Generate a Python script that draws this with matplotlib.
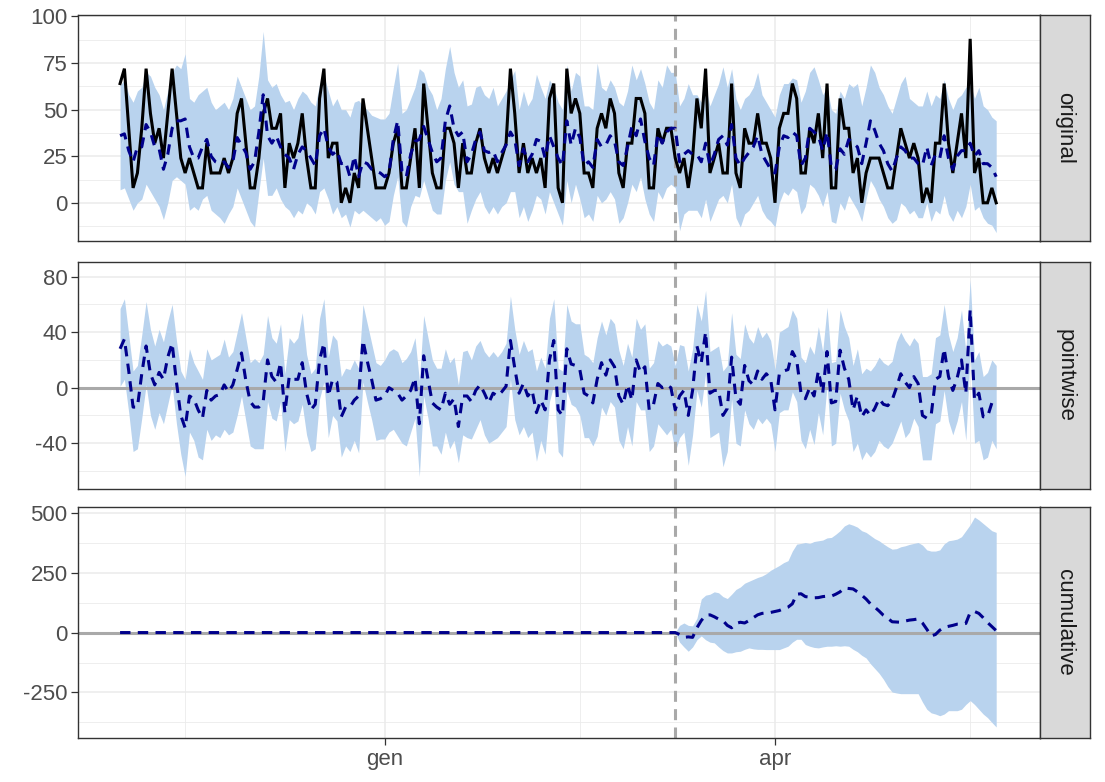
import numpy as np
import matplotlib
matplotlib.use("Agg")
import matplotlib.pyplot as plt
import matplotlib.dates as mdates
import datetime as dt

# ---------------- data ----------------
start_date = dt.date(2017, 11, 1)
post_start = dt.date(2018, 3, 9)        # intervention (vertical dashed line)
month_breaks = [dt.date(2018, 1, 1), dt.date(2018, 4, 1)]
month_labels = ["gen", "apr"]
minor_breaks = [dt.date(2017, 11, 16), dt.date(2018, 2, 15), dt.date(2018, 5, 16)]
panel_names = ["original", "pointwise", "cumulative"]

y_obs = [64, 72, 40, 8, 16, 40, 72, 48, 32, 40,
         24, 48, 72, 48, 24, 16, 24, 16, 8, 8,
         32, 16, 16, 16, 24, 16, 24, 48, 56, 32,
         8, 8, 24, 48, 56, 40, 40, 48, 8, 32,
         24, 32, 48, 24, 8, 8, 56, 72, 24, 32,
         32, 0, 8, 0, 16, 8, 56, 40, 24, 8,
         8, 8, 16, 32, 40, 8, 8, 24, 40, 8,
         64, 40, 16, 8, 8, 40, 40, 32, 8, 32,
         16, 16, 32, 40, 24, 16, 24, 16, 24, 32,
         72, 48, 16, 32, 16, 24, 16, 24, 8, 56,
         64, 8, 0, 72, 48, 56, 48, 16, 16, 8,
         40, 48, 40, 56, 48, 16, 8, 32, 32, 56,
         56, 48, 8, 8, 40, 32, 40, 40, 24, 16,
         24, 8, 24, 56, 40, 72, 16, 24, 32, 16,
         16, 64, 16, 8, 40, 32, 32, 48, 32, 32,
         24, 0, 40, 48, 48, 64, 56, 16, 16, 40,
         32, 48, 24, 64, 8, 8, 56, 40, 40, 16,
         24, 0, 16, 24, 24, 24, 16, 8, 8, 24,
         40, 32, 24, 32, 24, 0, 8, 0, 32, 32,
         64, 32, 16, 32, 48, 24, 88, 16, 24, 0,
         0, 8, 0]

pred_mean = [36, 37, 28, 22, 30, 30, 42, 38, 30, 29,
             18, 26, 40, 44, 44, 45, 30, 24, 24, 30,
             34, 25, 22, 21, 22, 19, 22, 35, 31, 27,
             18, 22, 38, 58, 36, 32, 36, 30, 26, 24,
             18, 26, 30, 28, 24, 20, 36, 40, 30, 26,
             28, 21, 22, 14, 25, 14, 22, 21, 18, 17,
             16, 14, 16, 34, 44, 17, 14, 26, 33, 34,
             41, 34, 27, 22, 24, 44, 52, 40, 36, 38,
             22, 26, 34, 38, 28, 27, 28, 22, 27, 31,
             38, 34, 20, 29, 22, 26, 34, 33, 24, 36,
             30, 24, 20, 44, 31, 40, 35, 20, 22, 19,
             34, 30, 31, 36, 33, 22, 20, 30, 41, 36,
             45, 33, 24, 20, 37, 32, 38, 40, 40, 22,
             26, 28, 26, 26, 22, 32, 20, 26, 34, 36,
             31, 42, 24, 20, 24, 27, 30, 36, 26, 22,
             18, 16, 30, 36, 35, 38, 36, 20, 24, 40,
             38, 36, 28, 38, 19, 18, 29, 26, 34, 32,
             30, 21, 32, 44, 39, 32, 28, 21, 17, 24,
             30, 28, 24, 24, 21, 20, 30, 20, 26, 24,
             36, 24, 18, 25, 28, 28, 32, 25, 28, 21,
             21, 19, 14]

pred_lower = [7, 8, 2, -4, 0, 2, 10, 6, 2, -2,
              -9, 0, 12, 14, 12, 10, -4, -2, -4, 2,
              4, -4, -6, -8, -11, -6, -2, 8, 2, -4,
              -10, -13, 6, 24, 4, 4, 8, 2, -2, -4,
              -8, -4, -6, 0, -2, -6, 6, 8, 2, -6,
              -2, -8, -6, -13, -4, -6, -4, -6, -8, -10,
              -8, -12, -10, 4, 14, -10, -13, -2, 4, 3,
              12, 4, -4, -6, -6, 12, 22, 10, 6, 6,
              -11, -4, 2, 6, -2, -6, -2, -6, -2, 0,
              6, 6, -8, -2, -10, -4, 4, 2, -6, 6,
              0, -6, -12, 12, 0, 10, 2, -8, -6, -10,
              4, 0, 2, 6, 2, -11, -8, 0, 10, 6,
              14, 2, -6, -10, 6, 2, 8, 10, 8, -15,
              -6, -4, -4, -4, -8, 2, -10, -4, 2, 4,
              0, 10, -8, -13, -6, -4, 0, 4, -4, -8,
              -10, -13, 0, 6, 4, 8, 6, -6, -2, 10,
              8, 4, -2, 6, -10, -11, 0, -4, 4, 0,
              -4, -10, 2, 12, 8, 2, -2, -8, -11, -9,
              0, -2, -6, -4, -8, -8, 0, -10, -4, -6,
              4, -6, -10, -4, -8, -2, 10, -4, -2, -8,
              -11, -12, -16]

pred_upper = [63, 66, 58, 54, 60, 62, 70, 68, 62, 58,
              50, 60, 70, 74, 72, 80, 56, 54, 58, 60,
              62, 54, 50, 52, 54, 50, 56, 68, 62, 56,
              50, 52, 68, 92, 66, 62, 64, 58, 54, 55,
              50, 56, 60, 58, 54, 52, 64, 68, 60, 52,
              56, 50, 50, 46, 54, 55, 52, 50, 47, 46,
              45, 45, 48, 62, 75, 48, 50, 56, 62, 72,
              70, 62, 58, 50, 56, 72, 84, 70, 62, 66,
              52, 53, 62, 63, 58, 56, 62, 52, 56, 60,
              66, 71, 50, 60, 52, 56, 69, 62, 56, 66,
              62, 54, 50, 74, 60, 70, 68, 52, 52, 50,
              75, 62, 60, 66, 62, 54, 52, 60, 74, 66,
              72, 64, 54, 50, 66, 62, 74, 70, 70, 52,
              56, 64, 58, 58, 54, 62, 52, 58, 64, 73,
              62, 72, 56, 50, 56, 58, 62, 70, 58, 54,
              50, 46, 58, 64, 64, 67, 66, 54, 60, 70,
              73, 66, 58, 62, 50, 48, 60, 56, 64, 62,
              64, 52, 62, 74, 70, 62, 58, 52, 48, 56,
              64, 68, 56, 54, 52, 52, 60, 52, 58, 56,
              66, 56, 50, 56, 58, 62, 64, 56, 62, 52,
              50, 46, 44]

# cumulative effect, post period only (from the intervention day onwards)
cum_mean = [0, -8, -20, -18, -20, 20, 50, 72, 74, 66,
            56, 50, 30, 20, 38, 43, 40, 50, 62, 74,
            80, 82, 84, 88, 92, 100, 106, 120, 160, 162,
            150, 148, 145, 146, 150, 152, 152, 160, 170, 186,
            184, 182, 170, 156, 140, 120, 106, 90, 72, 60,
            45, 44, 43, 48, 52, 54, 57, 40, 14, -14,
            -8, 10, 22, 26, 30, 35, 35, 38, 84, 88,
            80, 62, 42, 25, 8]
cum_lower = [0, -40, -60, -78, -60, -30, -14, -30, -40, -43,
             -60, -75, -85, -85, -80, -78, -70, -64, -68, -70,
             -70, -71, -71, -71, -71, -64, -57, -40, -28, -28,
             -50, -57, -62, -64, -60, -57, -57, -55, -57, -55,
             -57, -70, -80, -95, -106, -130, -150, -170, -195, -225,
             -248, -252, -255, -255, -255, -255, -255, -290, -320, -335,
             -340, -347, -340, -326, -326, -326, -320, -300, -284, -300,
             -320, -340, -355, -375, -394]
cum_upper = [0, 30, 40, 30, 28, 60, 140, 156, 160, 170,
             166, 150, 142, 160, 180, 190, 206, 214, 222, 230,
             236, 246, 260, 270, 280, 292, 300, 340, 369, 372,
             376, 372, 380, 383, 386, 395, 397, 410, 425, 445,
             454, 448, 440, 425, 418, 405, 392, 383, 370, 358,
             348, 350, 358, 362, 368, 372, 376, 365, 345, 340,
             340, 345, 370, 383, 386, 390, 400, 425, 450, 482,
             470, 455, 440, 425, 418]

panel_ticks = [[0, 25, 50, 75, 100], [-40, 0, 40, 80], [-250, 0, 250, 500]]
panel_minor = [[-12.5, 12.5, 37.5, 62.5, 87.5], [-60, -20, 20, 60],
               [-375, -125, 125, 375]]
panel_ylim = [(-20.5, 100.8), (-73.0, 90.5), (-440, 524)]

# ---------------- derived series ----------------
y_obs = np.array(y_obs, float)
pred_mean = np.array(pred_mean, float)
pred_lower = np.array(pred_lower, float)
pred_upper = np.array(pred_upper, float)
n = len(y_obs)
dates = [start_date + dt.timedelta(days=i) for i in range(n)]
x = mdates.date2num(dates)
x_int = mdates.date2num(post_start)
i0 = dates.index(post_start)

point_mean = y_obs - pred_mean
point_lower = y_obs - pred_upper
point_upper = y_obs - pred_lower
cum_full = np.concatenate([np.zeros(i0), np.array(cum_mean, float)])
x_post = x[i0:]

# ---------------- style ----------------
plt.rcParams['font.family'] = ['Liberation Sans', 'DejaVu Sans']
RIB = '#B9D3EE'
BLUE = '#00008B'
GRID = '#EBEBEB'
BORDER = '#333333'
DGREY = '#A9A9A9'
LW = 2.2
DASH = (0, (3.4, 2.4))
FS = 16

W, H = 1105, 782
fig = plt.figure(figsize=(W / 100, H / 100), dpi=100)
fig.patch.set_facecolor('white')

left, right = 78, 1040
strip_w = 50
vert = [(15, 241), (262, 489), (507, 738)]
xlim = (x[0] - 9.7, x[0] + 212.1)

axes = []
for k, (top, bot) in enumerate(vert):
    ax = fig.add_axes([left / W, 1 - bot / H, (right - left) / W, (bot - top) / H])
    axes.append(ax)
    ax.set_facecolor('white')
    ax.set_xlim(*xlim)
    ax.set_ylim(*panel_ylim[k])
    # grid
    for v in panel_minor[k]:
        ax.axhline(v, color=GRID, lw=0.6, zorder=0)
    for v in panel_ticks[k]:
        ax.axhline(v, color=GRID, lw=1.1, zorder=0)
    for d in minor_breaks:
        ax.axvline(mdates.date2num(d), color=GRID, lw=0.6, zorder=0)
    for d in month_breaks:
        ax.axvline(mdates.date2num(d), color=GRID, lw=1.1, zorder=0)
    ax.set_yticks(panel_ticks[k])
    ax.set_yticklabels([str(t) for t in panel_ticks[k]])
    ax.tick_params(axis='y', length=5.0, width=0.9, color=BORDER, pad=2.5,
                   labelsize=FS, labelcolor='#4D4D4D')
    for s in ax.spines.values():
        s.set_color(BORDER)
        s.set_linewidth(1.0)
        s.set_zorder(10)
    if k < 2:
        ax.set_xticks([])
    else:
        ax.set_xticks(mdates.date2num(month_breaks))
        ax.set_xticklabels(month_labels)
        ax.tick_params(axis='x', length=5.0, width=0.9, color=BORDER, pad=3,
                       labelsize=FS, labelcolor='#4D4D4D')

    # strip
    sax = fig.add_axes([right / W, 1 - bot / H, strip_w / W, (bot - top) / H])
    sax.set_facecolor('#D9D9D9')
    sax.set_xticks([])
    sax.set_yticks([])
    for s in sax.spines.values():
        s.set_color(BORDER)
        s.set_linewidth(1.0)
    sax.text(0.5, 0.5, panel_names[k], rotation=270, ha='center', va='center',
             fontsize=FS, color='#1A1A1A', transform=sax.transAxes)

# panel 1: original
ax = axes[0]
ax.fill_between(x, pred_lower, pred_upper, color=RIB, lw=0, zorder=1)
ax.axvline(x_int, color=DGREY, lw=LW, ls=(0, (3.6, 2.4)), zorder=2)
ax.plot(x, y_obs, color='black', lw=LW, zorder=3, solid_joinstyle='miter')
ax.plot(x, pred_mean, color=BLUE, lw=LW, ls=DASH, zorder=4)

# panel 2: pointwise
ax = axes[1]
ax.fill_between(x, point_lower, point_upper, color=RIB, lw=0, zorder=1)
ax.axhline(0, color=DGREY, lw=LW, zorder=2)
ax.axvline(x_int, color=DGREY, lw=LW, ls=(0, (3.6, 2.4)), zorder=2)
ax.plot(x, point_mean, color=BLUE, lw=LW, ls=DASH, zorder=4)

# panel 3: cumulative
ax = axes[2]
ax.fill_between(x_post, cum_lower, cum_upper, color=RIB, lw=0, zorder=1)
ax.axhline(0, color=DGREY, lw=LW, zorder=2)
ax.axvline(x_int, color=DGREY, lw=LW, ls=(0, (3.6, 2.4)), zorder=2)
ax.plot(x, cum_full, color=BLUE, lw=LW, ls=DASH, zorder=4)

fig.savefig('out.png', dpi=100, facecolor='white')
